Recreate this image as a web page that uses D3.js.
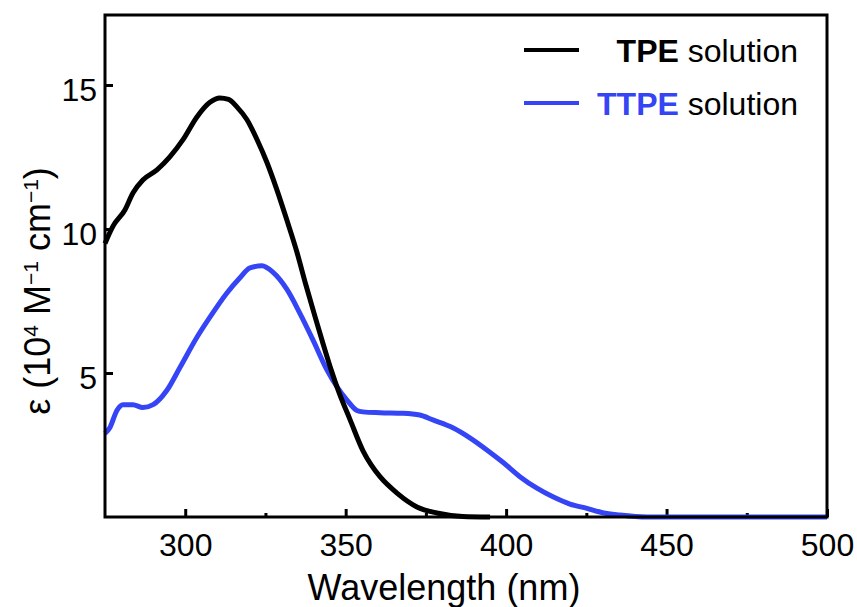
<!DOCTYPE html>
<html>
<head>
<meta charset="utf-8">
<script src="https://cdn.jsdelivr.net/npm/d3@7"></script>
<style>
  body { margin: 0; background: #fff; }
  svg { display: block; font-family: "Liberation Sans", Arial, Helvetica, sans-serif; }
  .axis text { font-size: 32px; fill: #000; }
  .axis line { stroke: #000; stroke-width: 3px; }
  .axis .domain { display: none; }
  .label { font-size: 36px; fill: #000; }
  .legend-text { font-size: 32px; }
</style>
</head>
<body>
<svg id="chart"><g class="chart"></g></svg>
<script>
// TPE solution
const tpeWavelength = [275, 277.5, 281.2, 283.7, 286.8, 291.2, 295.2, 299.3, 303.7, 307.7, 310.8, 313.5, 316.1, 319.2, 322.4, 325.5, 328.6, 331.7, 334.8, 337.5, 340.5, 343, 345.5, 348, 351.3, 355.4, 358, 360.7, 366, 372.2, 378.4, 386.5, 395]
const tpeEpsilon = [9.5, 10.1, 10.66, 11.25, 11.7, 12.05, 12.5, 13.1, 13.9, 14.4, 14.55, 14.5, 14.24, 13.8, 13.1, 12.3, 11.35, 10.3, 9.2, 8.1, 6.94, 6.0, 5.1, 4.3, 3.4, 2.3, 1.8, 1.4, 0.83, 0.35, 0.14, 0.02, 0]

// TTPE solution
const ttpeWavelength = [275, 276.5, 278.7, 280.6, 283.7, 286.8, 290, 294.3, 298.4, 303.7, 307.7, 313, 317, 320.2, 323.9, 327.3, 331.7, 335.7, 339.8, 344.2, 350.4, 353.5, 355.4, 360.7, 367.8, 373.1, 377.2, 383.4, 388.7, 394, 399, 404.3, 409.6, 414.6, 419.9, 425.2, 430.1, 435.4, 443.8, 500]
const ttpeEpsilon = [2.9, 3.1, 3.7, 3.9, 3.9, 3.8, 3.9, 4.4, 5.2, 6.25, 6.94, 7.78, 8.3, 8.65, 8.72, 8.5, 7.9, 7.08, 6.15, 5.1, 4.06, 3.7, 3.65, 3.62, 3.6, 3.54, 3.37, 3.1, 2.75, 2.33, 1.9, 1.4, 1.0, 0.7, 0.45, 0.3, 0.15, 0.07, 0, 0]

const xTicks = [300, 350, 400, 450, 500]
const xMinorTicks = [325, 375, 425, 475]
const yTicks = [5, 10, 15]
const xDomain = [275, 500]
const yDomain = [0, 17.43]

const seriesNames = ['TPE', 'TTPE']
const seriesColors = ['#000000', '#3545f5']

const width = 857, height = 607
const MARGIN = { top: 15, right: 30, bottom: 90, left: 105 }
const boundedWidth = width - MARGIN.left - MARGIN.right
const boundedHeight = height - MARGIN.top - MARGIN.bottom

const $svg = d3.select('#chart').attr('width', width).attr('height', height)
const $gVis = $svg.select('.chart').attr('transform', `translate(${MARGIN.left}, ${MARGIN.top})`)

const xScale = d3.scaleLinear().domain(xDomain).range([0, boundedWidth])
const yScale = d3.scaleLinear().domain(yDomain).range([boundedHeight, 0])

function drawChart() {
  // x axis, ticks pointing inward
  $gVis.append('g')
    .attr('class', 'axis x-axis')
    .attr('transform', `translate(0, ${boundedHeight})`)
    .call(d3.axisBottom(xScale).tickValues(xTicks).tickSize(-8).tickPadding(16))

  $gVis.append('g')
    .attr('class', 'axis x-minor')
    .attr('transform', `translate(0, ${boundedHeight})`)
    .call(d3.axisBottom(xScale).tickValues(xMinorTicks).tickSize(-4).tickFormat(''))

  // y axis
  $gVis.append('g')
    .attr('class', 'axis y-axis')
    .call(d3.axisLeft(yScale).tickValues(yTicks).tickSize(-8).tickPadding(8))
    .selectAll('text')
    .attr('dy', '0.47em')

  const line = d3.line()
    .x(d => xScale(d[0]))
    .y(d => yScale(d[1]))
    .curve(d3.curveMonotoneX)

  const series = [
    d3.zip(ttpeWavelength, ttpeEpsilon),
    d3.zip(tpeWavelength, tpeEpsilon)
  ]
  const colors = [seriesColors[1], seriesColors[0]]

  $gVis.selectAll('path.curve')
    .data(series)
    .enter()
    .append('path')
    .attr('class', 'curve')
    .attr('d', line)
    .attr('fill', 'none')
    .attr('stroke', (d, i) => colors[i])
    .attr('stroke-width', 5)
    .attr('stroke-linejoin', 'round')

  // frame
  $gVis.append('rect')
    .attr('x', 0)
    .attr('y', 0)
    .attr('width', boundedWidth)
    .attr('height', boundedHeight)
    .attr('fill', 'none')
    .attr('stroke', '#000')
    .attr('stroke-width', 3)

  // axis titles
  $svg.append('text')
    .attr('class', 'label x-label')
    .attr('x', 444)
    .attr('y', 600)
    .attr('text-anchor', 'middle')
    .text('Wavelength (nm)')

  const yLabel = $svg.append('text')
    .attr('class', 'label y-label')
    .attr('transform', 'translate(50, 291) rotate(-90)')
    .attr('text-anchor', 'middle')
  yLabel.append('tspan').text('ε (10')
  yLabel.append('tspan').attr('font-size', '21px').attr('dy', -12).text('4')
  yLabel.append('tspan').attr('dy', 12).text(' M')
  yLabel.append('tspan').attr('font-size', '21px').attr('dy', -12).text('−1')
  yLabel.append('tspan').attr('dy', 12).text(' cm')
  yLabel.append('tspan').attr('font-size', '21px').attr('dy', -12).text('−1')
  yLabel.append('tspan').attr('dy', 12).text(')')

  // legend
  const $gLegend = $svg.append('g').attr('class', 'legend')
  seriesNames.forEach((name, i) => {
    const yPos = 50 + i * 53
    $gLegend.append('line')
      .attr('x1', 524)
      .attr('x2', 579)
      .attr('y1', yPos)
      .attr('y2', yPos)
      .attr('stroke', seriesColors[i])
      .attr('stroke-width', 4)
    const t = $gLegend.append('text')
      .attr('class', 'legend-text')
      .attr('x', 798)
      .attr('y', yPos + 12)
      .attr('text-anchor', 'end')
    t.append('tspan').attr('font-weight', 'bold').attr('fill', seriesColors[i]).text(name)
    t.append('tspan').attr('fill', '#000').text(' solution')
  })
}

drawChart()
</script>
</body>
</html>
